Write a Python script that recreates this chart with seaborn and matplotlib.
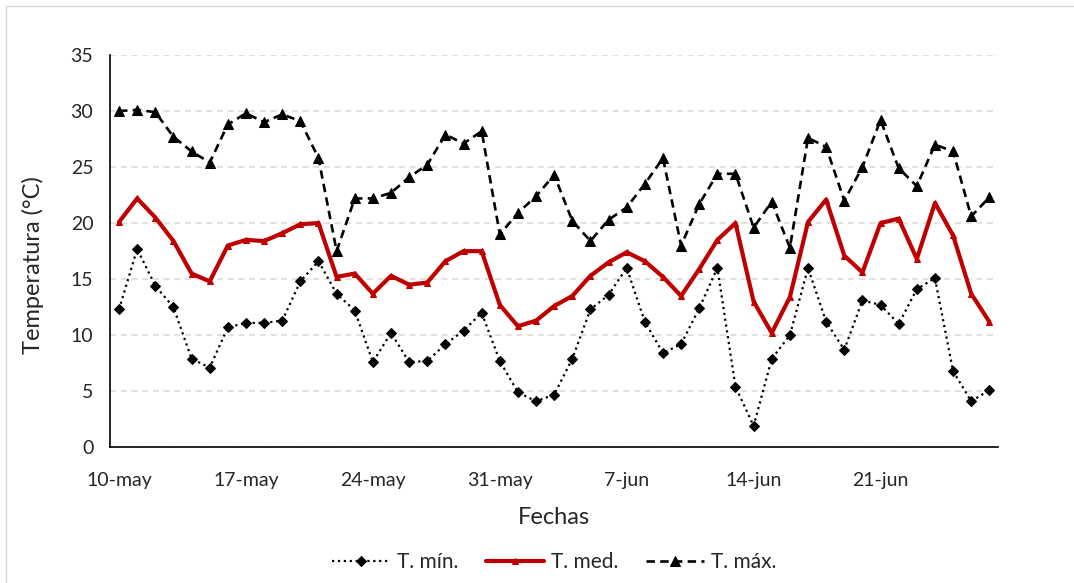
import numpy as np
import pandas as pd
import matplotlib
matplotlib.use("Agg")
import matplotlib.pyplot as plt
import seaborn as sns
from matplotlib.patches import Rectangle

# Daily temperatures, 10-may to 27-jun (49 days)
t_min = [12.3, 17.7, 14.4, 12.5, 7.9, 7.1, 10.7, 11.1, 11.1, 11.3,
         14.8, 16.6, 13.7, 12.2, 7.6, 10.2, 7.6, 7.7, 9.2, 10.4,
         12.0, 7.7, 4.9, 4.1, 4.7, 7.9, 12.3, 13.6, 16.0, 11.2,
         8.4, 9.2, 12.4, 16.0, 5.4, 1.9, 7.9, 10.0, 16.0, 11.2,
         8.7, 13.1, 12.7, 11.0, 14.1, 15.1, 6.8, 4.1, 5.1]
t_med = [20.1, 22.2, 20.5, 18.4, 15.5, 14.8, 18.0, 18.5, 18.4, 19.1,
         19.9, 20.0, 15.2, 15.5, 13.7, 15.3, 14.5, 14.7, 16.6, 17.5,
         17.5, 12.7, 10.8, 11.3, 12.6, 13.5, 15.3, 16.5, 17.4, 16.6,
         15.2, 13.5, 15.9, 18.5, 20.0, 13.0, 10.2, 13.4, 20.1, 22.1,
         17.1, 15.6, 20.0, 20.4, 16.8, 21.8, 18.9, 13.7, 11.2]
t_max = [30.0, 30.1, 29.9, 27.7, 26.4, 25.4, 28.8, 29.8, 29.0, 29.7,
         29.1, 25.8, 17.5, 22.2, 22.2, 22.7, 24.1, 25.2, 27.9, 27.1,
         28.2, 19.0, 20.9, 22.4, 24.3, 20.2, 18.4, 20.3, 21.4, 23.5,
         25.8, 18.0, 21.7, 24.4, 24.4, 19.6, 21.9, 17.8, 27.6, 26.8,
         22.0, 25.0, 29.2, 24.9, 23.3, 27.0, 26.4, 20.6, 22.3]
tick_labels = ["10-may", "17-may", "24-may", "31-may", "7-jun", "14-jun", "21-jun"]
series_names = ["T. mín.", "T. med.", "T. máx."]

df = pd.DataFrame({"dia": np.arange(len(t_min)),
                   "tmin": t_min, "tmed": t_med, "tmax": t_max})

sns.set_style("white")
plt.rcParams["font.family"] = ["Lato", "DejaVu Sans"]

fig = plt.figure(figsize=(10.74, 5.83), dpi=100)
ax = fig.add_axes([0.1024, 0.2328, 0.8272, 0.6729])

sns.lineplot(data=df, x="dia", y="tmin", ax=ax, color="black", linestyle=":",
             linewidth=1.6, marker="D", markersize=5.5, markeredgecolor="black",
             label=series_names[0])
sns.lineplot(data=df, x="dia", y="tmed", ax=ax, color="#C00000", linestyle="-",
             linewidth=3.0, marker="^", markersize=4.5, markeredgecolor="#C00000",
             label=series_names[1])
sns.lineplot(data=df, x="dia", y="tmax", ax=ax, color="black", linestyle=(0, (3.2, 2.0)),
             linewidth=1.9, marker="^", markersize=6.5, markeredgecolor="black",
             label=series_names[2])

n = len(t_min)
ax.set_xlim(-0.5, n - 0.5)
ax.set_ylim(0, 35)
ax.set_yticks(np.arange(0, 36, 5))
ax.set_xticks(np.arange(0, n, 7))
ax.set_xticklabels(tick_labels)
ax.set_xticks(np.arange(-0.5, n, 7), minor=True)
ax.tick_params(axis="x", which="major", length=0, pad=18, labelsize=14)
ax.tick_params(axis="x", which="minor", length=7, width=1.2, color="black", direction="out")
ax.tick_params(axis="y", length=6, width=1.2, color="black", direction="out", pad=6, labelsize=14)
ax.grid(axis="y", color="#D9D9D9", linestyle=(0, (4, 3)), linewidth=1.1)
ax.grid(axis="x", visible=False)
ax.set_axisbelow(True)

for s in ["top", "right"]:
    ax.spines[s].set_visible(False)
for s in ["left", "bottom"]:
    ax.spines[s].set_color("black")
    ax.spines[s].set_linewidth(1.2)

ax.set_xlabel("Fechas", fontsize=17, labelpad=13)
ax.set_ylabel("")
fig.text(0.031, 0.545, "Temperatura (°C)", rotation=90, fontsize=17,
         ha="center", va="center")

ax.legend(loc="center", bbox_to_anchor=(0.5, -0.293), ncol=3, frameon=False,
          fontsize=15, handlelength=2.8, handletextpad=0.35, columnspacing=1.3)

fig.patches.append(Rectangle((6 / 1074, -0.05), 1.2, 1.05 - 6 / 583, transform=fig.transFigure,
                             fill=False, edgecolor="#D9D9D9", linewidth=1.0))

fig.savefig("out.png", dpi=100)
